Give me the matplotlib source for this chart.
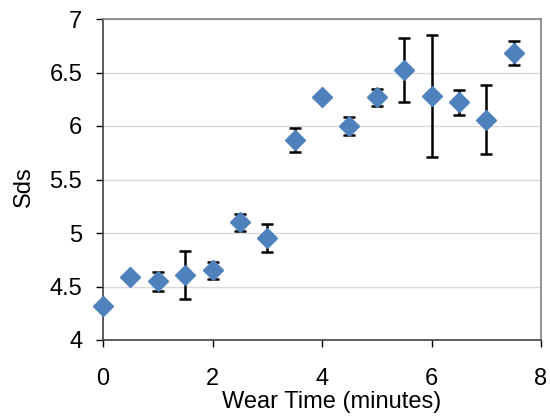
import matplotlib.pyplot as plt

# wear time (minutes) and Sds values with error bars
wear_time = [0, 0.5, 1, 1.5, 2, 2.5, 3, 3.5, 4, 4.5, 5, 5.5, 6, 6.5, 7, 7.5]
sds = [4.32, 4.59, 4.55, 4.61, 4.65, 5.10, 4.95, 5.87, 6.27, 6.00, 6.27, 6.52, 6.28, 6.22, 6.06, 6.68]
sds_err = [0.0, 0.0, 0.09, 0.225, 0.08, 0.08, 0.13, 0.11, 0.0, 0.08, 0.08, 0.30, 0.57, 0.115, 0.32, 0.11]

plt.rcParams['font.family'] = ['Liberation Sans', 'DejaVu Sans']

fig = plt.figure(figsize=(5.5, 4.17), dpi=100)
ax = fig.add_axes([103/550, 77/417, 438/550, 321/417])

ax.errorbar(wear_time, sds, yerr=sds_err, fmt='none', ecolor='black',
            elinewidth=1.8, capsize=4.5, capthick=1.8, zorder=2)
ax.plot(wear_time, sds, linestyle='none', marker='D', markersize=10.5,
        color='#4F81BD', markeredgecolor='#4F81BD', zorder=3, clip_on=False)

ax.set_xlim(0, 8)
ax.set_ylim(4, 7)
ax.set_xticks([0, 2, 4, 6, 8])
ax.set_yticks([4, 4.5, 5, 5.5, 6, 6.5, 7])
ax.set_yticklabels(['4', '4.5', '5', '5.5', '6', '6.5', '7'])
ax.yaxis.grid(True, color='#D9D9D9', linewidth=1)
ax.set_axisbelow(True)

ax.tick_params(axis='x', direction='out', length=5, width=1, pad=15, labelsize=17, colors='black')
ax.tick_params(axis='y', direction='out', length=5, width=1, pad=10, labelsize=17, colors='black')

for side in ['left', 'bottom']:
    ax.spines[side].set_color('#404040')
    ax.spines[side].set_linewidth(1.2)
for side in ['top', 'right']:
    ax.spines[side].set_color('#808080')
    ax.spines[side].set_linewidth(1.2)

ax.set_xlabel('Wear Time (minutes)', fontsize=17)
ax.set_ylabel('Sds', fontsize=17)
ax.xaxis.set_label_coords((332 - 103) / 438, -(402 - 340) / 321)
ax.yaxis.set_label_coords(-(103 - 24) / 438, (340 - 187) / 321)
ax.xaxis.label.set_va('center')
ax.yaxis.label.set_va('center')

fig.savefig('out.png', dpi=100)
